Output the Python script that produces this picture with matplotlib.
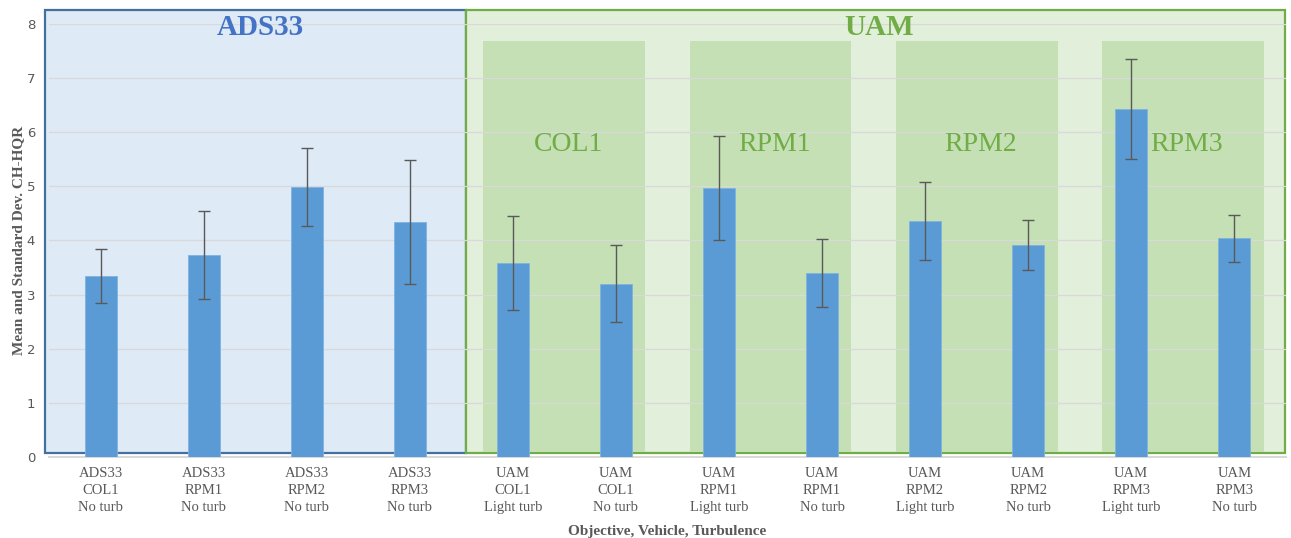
import matplotlib.pyplot as plt
from matplotlib.patches import Rectangle

# mean and standard deviation of CH-HQR per run
objectives = ["COL1", "RPM1", "RPM2", "RPM3",
              "COL1", "COL1", "RPM1", "RPM1", "RPM2", "RPM2", "RPM3", "RPM3"]
vehicles = ["ADS33"] * 4 + ["UAM"] * 8
turbulence = ["No turb"] * 4 + ["Light turb", "No turb"] * 4
means = [3.35, 3.73, 4.99, 4.34, 3.58, 3.20, 4.97, 3.40, 4.36, 3.91, 6.43, 4.04]
stds = [0.50, 0.81, 0.72, 1.14, 0.87, 0.71, 0.96, 0.63, 0.72, 0.46, 0.93, 0.44]

uam_groups = ["COL1", "RPM1", "RPM2", "RPM3"]

gray = "#595959"
serif = ["Liberation Serif", "DejaVu Serif"]

fig = plt.figure(figsize=(12.91, 5.38), dpi=100)
ax = fig.add_axes([0.038, 0.1506, 0.958, 0.8048])
ax.set_facecolor("none")

x = list(range(len(means)))
ax.bar(x, means, width=0.31, color="#5B9BD5", edgecolor="#7FB3E2",
       linewidth=0.6, zorder=3)
ax.errorbar(x, means, yerr=stds, fmt="none", ecolor=gray, elinewidth=1,
            capsize=4, capthick=1, zorder=4)

ax.set_xlim(-0.5, 11.5)
ax.set_ylim(0, 8)
ax.set_yticks(range(0, 9))
ax.yaxis.grid(True, color="#D9D9D9", linewidth=0.9, zorder=1.5)
ax.set_axisbelow(False)
for s in ["top", "right", "left"]:
    ax.spines[s].set_visible(False)
ax.spines["bottom"].set_color("#D9D9D9")
ax.spines["bottom"].set_linewidth(1.5)
ax.spines["bottom"].set_zorder(1.6)
ax.tick_params(axis="both", length=0, colors=gray)
ax.tick_params(axis="y", labelsize=9.5, pad=10)

labels = [f"{v}\n{o}\n{t}" for v, o, t in zip(vehicles, objectives, turbulence)]
ax.set_xticks(x)
ax.set_xticklabels(labels, family=serif, fontsize=10.5, color=gray,
                   linespacing=1.4)
ax.tick_params(axis="x", pad=7)

ax.set_xlabel("Objective, Vehicle, Turbulence", family=serif, fontsize=11,
              fontweight="bold", color=gray, labelpad=8)
ax.set_ylabel("Mean and Standard Dev. CH-HQR", family=serif, fontsize=11,
              fontweight="bold", color=gray, labelpad=1)

# shaded group boxes behind the bars
ads = Rectangle((-0.54, 0.08), 4.09, 8.17, facecolor="#DEEAF6",
                edgecolor="#41719C", linewidth=1.6, clip_on=False, zorder=0.2)
uam = Rectangle((3.55, 0.08), 7.94, 8.17, facecolor="#E2EFDA",
                edgecolor="#70AD47", linewidth=1.6, clip_on=False, zorder=0.2)
ax.add_patch(ads)
ax.add_patch(uam)

centers = [4.5, 6.5, 8.5, 10.5]
for c, name in zip(centers, uam_groups):
    ax.add_patch(Rectangle((c - 0.785, 0.09), 1.57, 7.6, facecolor="#C5E0B4",
                           edgecolor="none", clip_on=False, zorder=0.3))
    ax.text(c + 0.04, 5.77, name, family=serif, fontsize=20, color="#70AD47",
            ha="center", va="center", zorder=5)

ax.text(1.545, 7.94, "ADS33", family=serif, fontsize=21, fontweight="bold",
        color="#4472C4", ha="center", va="center", zorder=5)
ax.text(7.55, 7.94, "UAM", family=serif, fontsize=21, fontweight="bold",
        color="#70AD47", ha="center", va="center", zorder=5)

fig.savefig("out.png", dpi=100)
